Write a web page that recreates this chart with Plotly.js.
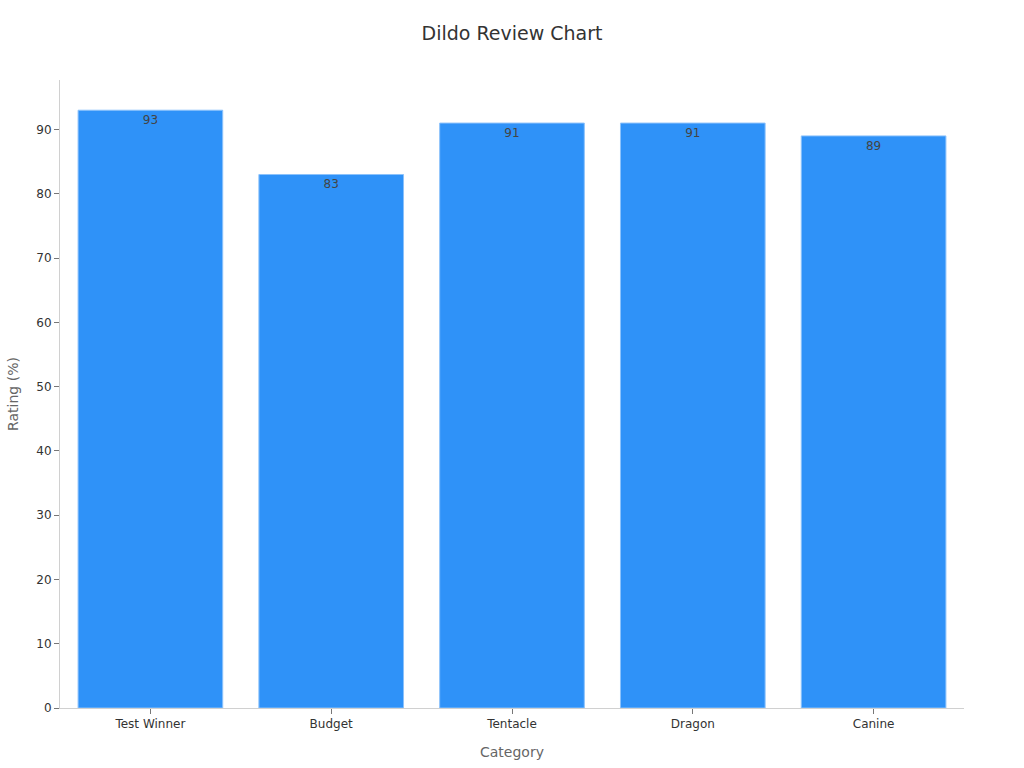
<!DOCTYPE html>
<html>
<head>
<meta charset="utf-8">
<script src="https://cdn.plot.ly/plotly-3.0.1.min.js"></script>
<style>
  html, body { margin: 0; padding: 0; background: #fff; }
  #chart { width: 1024px; height: 768px; }
</style>
</head>
<body>
<div id="chart"></div>
<script>
  "use strict";
  const FONT = "DejaVu Sans, sans-serif";

  // Values.
  const categories = ["Test Winner", "Budget", "Tentacle", "Dragon", "Canine"];
  const ratings = [93, 83, 91, 91, 89];

  const traces = [{
    type: "bar",
    x: categories,
    y: ratings,
    text: ratings.map(String),
    textposition: "inside",
    insidetextanchor: "end",
    textfont: { family: FONT, size: 12, color: "#444" },
    marker: { color: "#2f92f8", line: { color: "#8cc2fb", width: 1 } },
    hoverinfo: "x+y",
  }];

  const axisLine = { showline: true, linecolor: "#d0d0d0", linewidth: 1 };

  const layout = {
    width: 1024,
    height: 768,
    paper_bgcolor: "#fff",
    plot_bgcolor: "#fff",
    font: { family: FONT, color: "#333" },
    title: { text: "Dildo Review Chart", font: { family: FONT, size: 19, color: "#333" }, x: 0.5, xanchor: "center", y: 0.957, yanchor: "middle" },
    margin: { t: 80, r: 60, b: 60, l: 60 },
    bargap: 0.2,
    showlegend: false,
    xaxis: Object.assign({
      title: { text: "Category", font: { family: FONT, size: 14, color: "#666" }, standoff: 16 },
      tickfont: { family: FONT, size: 12, color: "#333" },
      ticks: "outside", ticklen: 5, tickcolor: "#777",
      showgrid: false, zeroline: false,
    }, axisLine),
    yaxis: Object.assign({
      title: { text: "Rating (%)", font: { family: FONT, size: 14, color: "#666" }, standoff: 14 },
      tickfont: { family: FONT, size: 12, color: "#333" },
      range: [0, 97.7],
      dtick: 10,
      ticks: "outside", ticklen: 5, tickcolor: "#777",
      showgrid: false, zeroline: false,
    }, axisLine),
  };

  Plotly.newPlot("chart", traces, layout, { displayModeBar: false, staticPlot: true });
</script>
</body>
</html>
